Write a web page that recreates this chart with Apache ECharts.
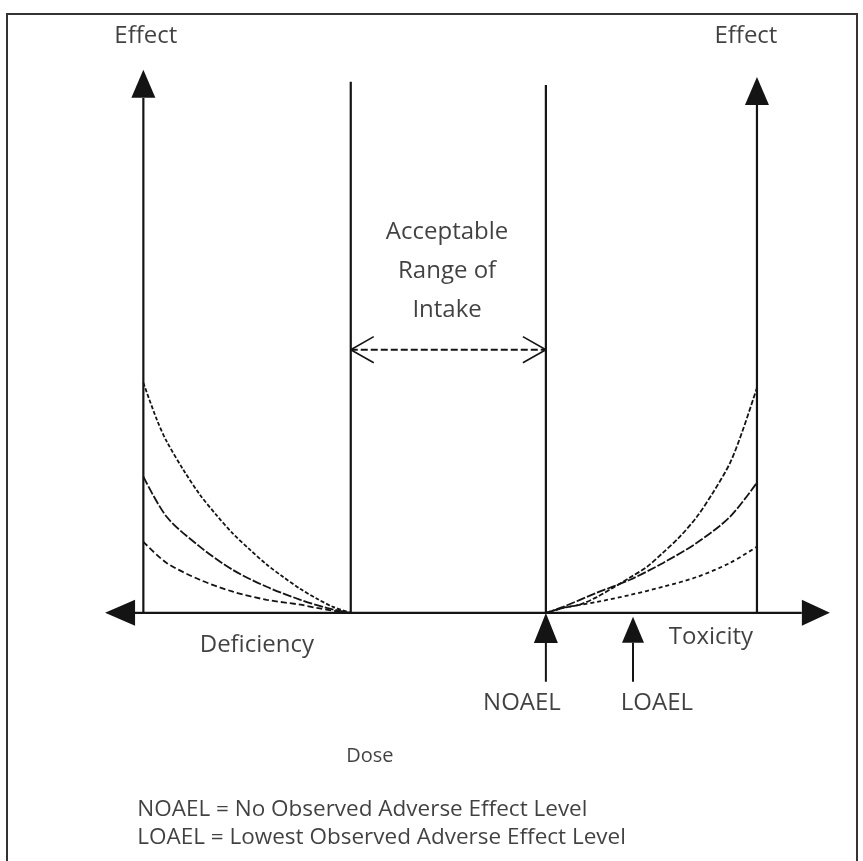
<!DOCTYPE html>
<html><head><meta charset="utf-8">
<script src="https://cdn.jsdelivr.net/npm/echarts@6/dist/echarts.min.js"></script>
<style>html,body{margin:0;padding:0;background:#fff}#c{width:863px;height:861px}</style>
</head><body><div id="c"></div>
<script>
// ---- Dose positions (arbitrary dose units) ----
const doseLeftAxis = 0;
const doseLowerLimit = 33.8;
const doseNOAEL = 65.6;
const doseLOAEL = 79.8;
const doseRightAxis = 100;
const doseArrowLeftBase = -1.4;
const doseArrowRightBase = 107.3;

// ---- Effect heights of the vertical lines ----
const leftAxisTop = 94.9;
const rightAxisTop = 93.6;
const lowerLimitTop = 97.9;
const noaelLineTop = 97.3;

// ---- Deficiency curves ----
const defTopX = [0, 2.2, 3.8, 6.5, 9.2, 12.0, 14.6, 17.4, 20.1, 22.8, 25.6, 28.3, 30.9, 33.8];
const defTopY = [42.4, 35.6, 31.6, 26.4, 21.8, 17.9, 14.6, 11.6, 8.9, 6.6, 4.4, 2.6, 1.1, 0];
const defMidX = [0, 3.8, 9.2, 14.6, 20.1, 25.6, 29.9, 33.6];
const defMidY = [25.1, 17.7, 12.2, 7.9, 4.8, 2.4, 0.9, 0];
const defLowX = [0, 3.8, 9.2, 14.6, 20.1, 25.6, 28.3, 32.9];
const defLowY = [13.1, 9.2, 6.1, 3.9, 2.4, 1.5, 0.9, 0];

// ---- Toxicity curves ----
const toxTopX = [65.6, 68.4, 71.1, 73.9, 76.5, 79.3, 82.1, 84.7, 87.4, 90.2, 92.8, 95.6, 97.7, 100];
const toxTopY = [0, 0.9, 1.5, 2.9, 4.6, 6.5, 8.5, 11.1, 14.0, 17.7, 22.1, 27.6, 33.7, 41.5];
const toxMidX = [65.6, 68.4, 73.9, 79.3, 84.7, 90.2, 95.6, 100];
const toxMidY = [0, 1.1, 3.7, 6.1, 9.2, 12.9, 17.7, 24.0];
const toxLowX = [66.2, 68.4, 73.9, 79.3, 84.7, 90.2, 95.6, 100];
const toxLowY = [0, 0.9, 2.0, 3.3, 4.8, 6.6, 9.2, 12.2];

// ---- Acceptable range arrow ----
const rangeArrowY = 48.5;
const chevronDx = 3.75;
const chevronDy = 2.4;

// ---- Arrowheads (centres) ----
const headX = [0, 100, -3.8, 109.6, 65.6, 79.8];
const headY = [97.5, 96.2, 0, 0, -2.8, -3.1];
const headRot = [0, 0, 90, -90, 0, 0];
const headW = [24, 24, 26, 26, 24, 22];
const headH = [28, 28, 30, 28, 30, 26];

// ---- Level pointer shafts ----
const shaftTop = -5.5;
const shaftBottom = -12.7;

// ---- Text labels ----
const bigTexts = ['Effect', 'Effect', 'Acceptable\nRange of\nIntake', 'Deficiency', 'Toxicity', 'NOAEL', 'LOAEL'];
const bigX = [0.4, 98.2, 49.5, 18.5, 92.5, 61.7, 83.7];
const bigY = [106.3, 106.3, 63.0, -5.9, -4.4, -16.6, -16.6];
const smallTexts = ['Dose'];
const smallX = [36.9];
const smallY = [-26.5];
const noteTexts = ['NOAEL = No Observed Adverse Effect Level', 'LOAEL = Lowest Observed Adverse Effect Level'];
const noteX = [-1.0, -1.0];
const noteY = [-36.3, -41.5];

const zip = (xs, ys) => xs.map((x, i) => [x, ys[i]]);
const ink = '#141414';
const textInk = '#111111';
const FONT = 'Open Sans';

function lineS(data, width, type, smooth) {
  return {
    type: 'line', data: data, symbol: 'none', smooth: smooth || false,
    lineStyle: { color: ink, width: width, type: type || 'solid' },
    silent: true, animation: false, z: 3
  };
}

const series = [
  // horizontal dose axis
  lineS([[doseArrowLeftBase, 0], [doseArrowRightBase, 0]], 2.2),
  // left & right effect axes
  lineS([[doseLeftAxis, 0], [doseLeftAxis, leftAxisTop]], 2.2),
  lineS([[doseRightAxis, 0], [doseRightAxis, rightAxisTop]], 2.2),
  // acceptable range bounds
  lineS([[doseLowerLimit, 0], [doseLowerLimit, lowerLimitTop]], 2.2),
  lineS([[doseNOAEL, 0], [doseNOAEL, noaelLineTop]], 2.2),
  // deficiency curves
  lineS(zip(defTopX, defTopY), 1.8, [4, 2], 0.3),
  lineS(zip(defMidX, defMidY), 1.8, [9, 2], 0.3),
  lineS(zip(defLowX, defLowY), 1.8, [6, 3], 0.3),
  // toxicity curves
  lineS(zip(toxTopX, toxTopY), 1.8, [5, 2], 0.3),
  lineS(zip(toxMidX, toxMidY), 1.8, [9, 2], 0.3),
  lineS(zip(toxLowX, toxLowY), 1.8, [4, 3], 0.3),
  // acceptable range dashed arrow
  lineS([[doseLowerLimit, rangeArrowY], [doseNOAEL, rangeArrowY]], 2, [7, 3]),
  lineS([[doseLowerLimit + chevronDx, rangeArrowY + chevronDy], [doseLowerLimit, rangeArrowY], [doseLowerLimit + chevronDx, rangeArrowY - chevronDy]], 1.6),
  lineS([[doseNOAEL - chevronDx, rangeArrowY + chevronDy], [doseNOAEL, rangeArrowY], [doseNOAEL - chevronDx, rangeArrowY - chevronDy]], 1.6),
  // NOAEL / LOAEL pointer shafts
  lineS([[doseNOAEL, shaftTop], [doseNOAEL, shaftBottom]], 2),
  lineS([[doseLOAEL, shaftTop], [doseLOAEL, shaftBottom]], 2),
  // arrowheads
  {
    type: 'scatter', silent: true, animation: false, z: 4,
    data: headX.map((x, i) => ({
      value: [x, headY[i]], symbol: 'triangle',
      symbolSize: [headW[i], headH[i]], symbolRotate: headRot[i]
    })),
    itemStyle: { color: ink, opacity: 1 }
  },
  // big labels
  {
    type: 'scatter', silent: true, animation: false, symbolSize: 0, z: 5,
    data: bigTexts.map((t, i) => ({ value: [bigX[i], bigY[i]], name: t })),
    label: {
      show: true, position: 'inside', formatter: p => p.name,
      fontFamily: FONT, fontSize: 24, color: textInk, lineHeight: 39, align: 'center'
    }
  },
  {
    type: 'scatter', silent: true, animation: false, symbolSize: 0, z: 5,
    data: smallTexts.map((t, i) => ({ value: [smallX[i], smallY[i]], name: t })),
    label: { show: true, position: 'inside', formatter: p => p.name, fontFamily: FONT, fontSize: 20, color: textInk }
  },
  {
    type: 'scatter', silent: true, animation: false, symbolSize: 0, z: 5,
    data: noteTexts.map((t, i) => ({ value: [noteX[i], noteY[i]], name: t })),
    label: { show: true, position: 'right', distance: 0, formatter: p => p.name, fontFamily: FONT, fontSize: 22.5, color: textInk }
  }
];

const chart = echarts.init(document.getElementById('c'), null, { renderer: 'canvas' });
chart.setOption({
  backgroundColor: '#ffffff',
  animation: false,
  grid: { left: 82, right: 14, top: 16, bottom: 4 },
  xAxis: { type: 'value', min: -10, max: 115, show: false },
  yAxis: { type: 'value', min: -45, max: 110, show: false },
  graphic: [{
    type: 'rect', shape: { x: 7, y: 14, width: 850, height: 880 },
    style: { fill: 'none', stroke: '#333333', lineWidth: 2 }, z: 1
  }],
  series: series
});
</script>
</body></html>
